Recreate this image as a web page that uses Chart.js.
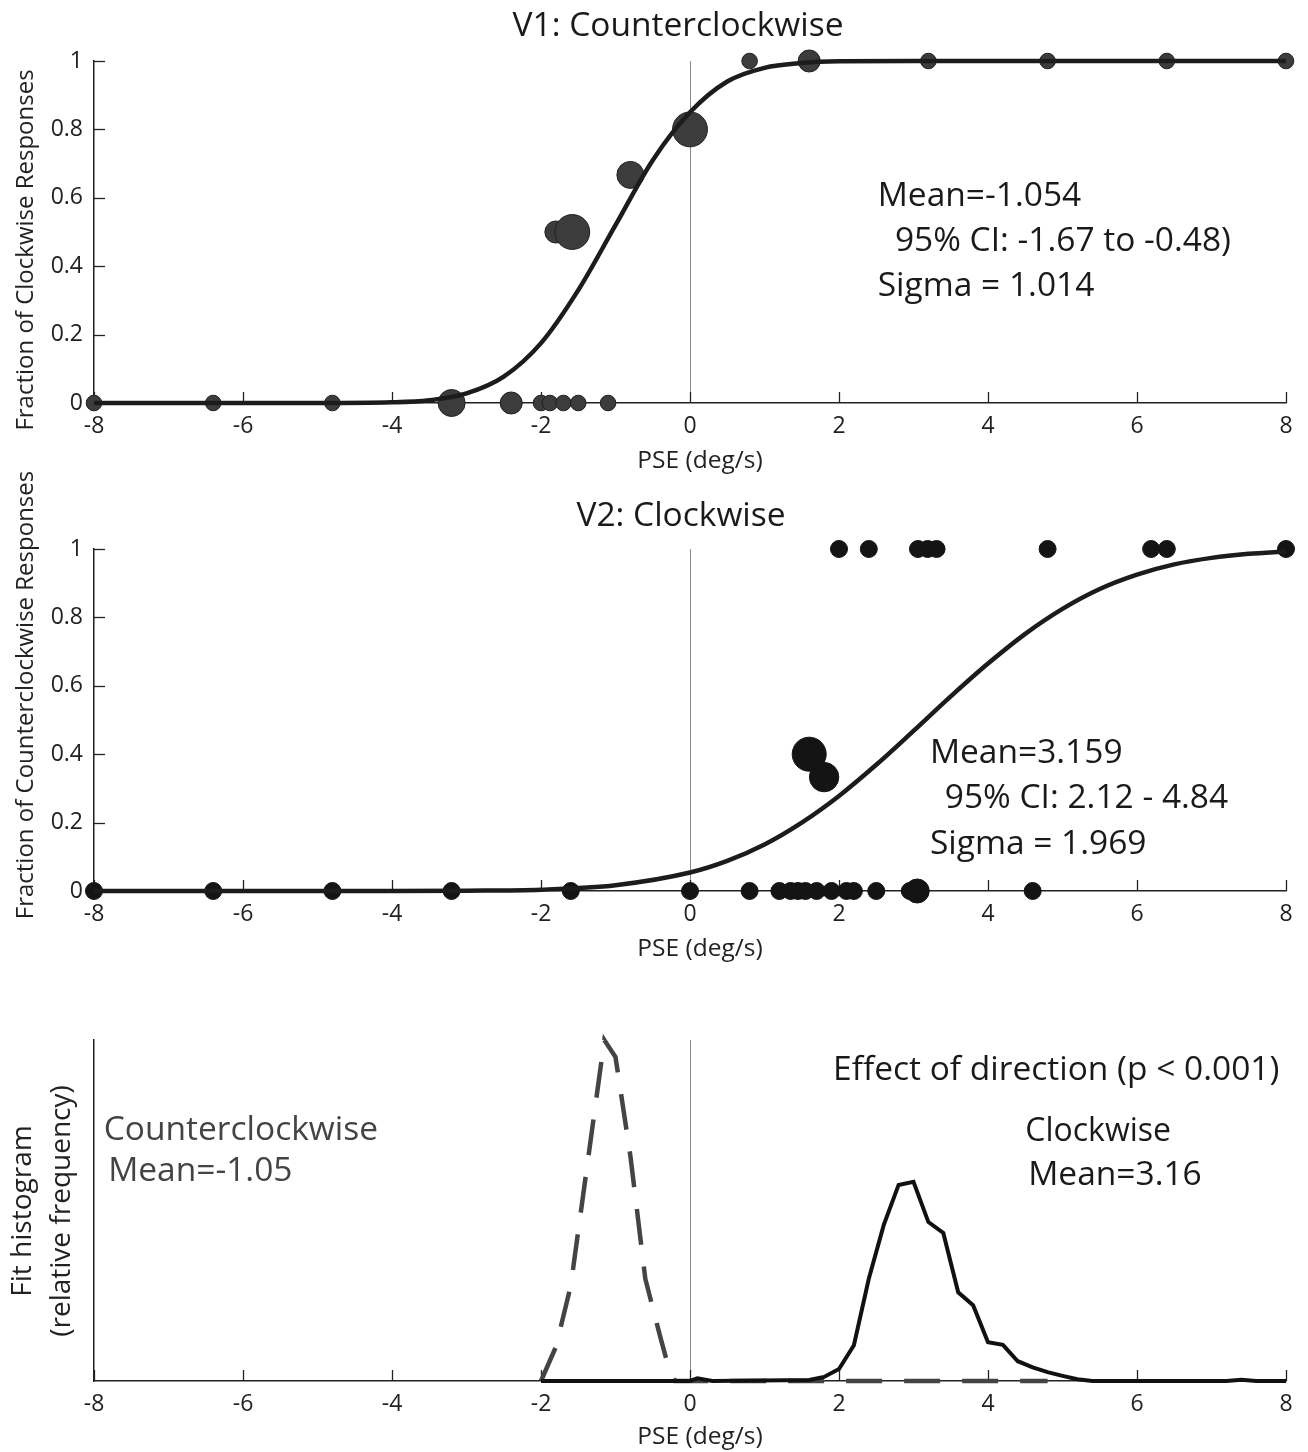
<!DOCTYPE html>
<html>
<head>
<meta charset="utf-8">
<script src="https://cdn.jsdelivr.net/npm/chart.js@4.4.1/dist/chart.umd.min.js"></script>
<style>
  body { margin: 0; background: #fff; }
  canvas { position: absolute; left: 0; }
</style>
</head>
<body>
<canvas id="v1Chart" width="1308" height="480" style="top:0px"></canvas>
<canvas id="v2Chart" width="1308" height="510" style="top:460px"></canvas>
<canvas id="histChart" width="1308" height="482" style="top:970px"></canvas>
<script>
// ================= DATA =================
// V1: counterclockwise - responses per speed, marker size ~ number of trials
const v1X      = [-8, -6.4, -4.8, -3.2, -2.4, -2.0, -1.88, -1.7, -1.5, -1.1, -1.8, -1.58, -0.8, 0, 0.8, 1.6, 3.2, 4.8, 6.4, 8];
const v1Y      = [0, 0, 0, 0, 0, 0, 0, 0, 0, 0, 0.5, 0.5, 0.667, 0.8, 1, 1, 1, 1, 1, 1];
const v1Trials = [1, 1, 1, 3, 2, 1, 1, 1, 1, 1, 2, 5, 3, 5, 1, 2, 1, 1, 1, 1];
const v1FitX   = [-8, -5, -4, -3.5, -3, -2.5, -2, -1.5, -1, -0.5, 0, 0.5, 1, 1.5, 2, 3, 8];
const v1FitY   = [0, 0, 0.002, 0.008, 0.028, 0.077, 0.175, 0.33, 0.52, 0.71, 0.85, 0.94, 0.98, 0.994, 0.999, 1, 1];

// V2: clockwise
const v2X      = [-8, -6.4, -4.8, -3.2, -1.6, 0, 0.8, 1.2, 1.35, 1.45, 1.55, 1.7, 1.9, 2.1, 2.2, 2.5, 2.95, 3.05, 4.6,
                  1.6, 1.8,
                  2.0, 2.4, 3.06, 3.19, 3.31, 4.8, 6.19, 6.4, 8];
const v2Y      = [0, 0, 0, 0, 0, 0, 0, 0, 0, 0, 0, 0, 0, 0, 0, 0, 0, 0, 0,
                  0.4, 0.333,
                  1, 1, 1, 1, 1, 1, 1, 1, 1];
const v2Trials = [1, 1, 1, 1, 1, 1, 1, 1, 1, 1, 1, 1, 1, 1, 1, 1, 1, 2, 1,
                  4, 3,
                  1, 1, 1, 1, 1, 1, 1, 1, 1];
const v2FitX   = [-8, -4, -3, -2, -1, 0, 0.5, 1, 1.5, 2, 2.5, 3, 3.5, 4, 4.5, 5, 5.5, 6, 6.5, 7, 7.5, 8];
const v2FitY   = [0, 0.0001, 0.001, 0.004, 0.017, 0.054, 0.088, 0.136, 0.2, 0.278, 0.369, 0.468, 0.569, 0.665, 0.752, 0.825, 0.883, 0.925, 0.955, 0.974, 0.986, 0.993];

// Fit histograms (relative frequency)
const ccwHistX = [-2.0, -1.8, -1.6, -1.4, -1.2, -1.15, -1.0, -0.8, -0.6, -0.4, -0.3, -0.2, 4.8];
const ccwHistY = [0, 0.1, 0.28, 0.6, 0.92, 1.0, 0.95, 0.66, 0.3, 0.13, 0.05, 0, 0];
const cwHistX  = [-2, 0, 0.1, 0.3, 1.6, 1.8, 2.0, 2.2, 2.4, 2.6, 2.8, 3.0, 3.2, 3.4, 3.6, 3.8, 4.0, 4.2, 4.4, 4.6, 4.8, 5.0, 5.2, 5.4, 7.2, 7.4, 7.6, 8];
const cwHistY  = [0, 0, 0.008, 0, 0.003, 0.012, 0.035, 0.105, 0.3, 0.457, 0.575, 0.584, 0.466, 0.434, 0.26, 0.222, 0.114, 0.106, 0.058, 0.04, 0.026, 0.015, 0.005, 0, 0, 0.004, 0, 0];

const xTickValues = [-8, -6, -4, -2, 0, 2, 4, 6, 8];
const yTickValues = [0, 0.2, 0.4, 0.6, 0.8, 1];

const toPoints = (xs, ys) => xs.map((x, i) => ({ x: x, y: ys[i] }));

Chart.defaults.font.family = '"Open Sans", "DejaVu Sans", sans-serif';
Chart.defaults.color = '#222';

// ticks drawn inside the axes + free text
const textLayer = {
  id: 'textLayer',
  beforeDatasetsDraw(chart, args, opts) {
    const { ctx, chartArea, scales } = chart;
    ctx.save();
    ctx.strokeStyle = '#222';
    ctx.lineWidth = 1.3;
    scales.x.ticks.forEach(t => {
      const px = Math.round(scales.x.getPixelForValue(t.value)) + 0.5;
      ctx.beginPath();
      ctx.moveTo(px, chartArea.bottom);
      ctx.lineTo(px, chartArea.bottom - 11);
      ctx.stroke();
    });
    if (opts.yTicks) {
      scales.y.ticks.forEach(t => {
        const py = Math.round(scales.y.getPixelForValue(t.value)) + 0.5;
        ctx.beginPath();
        ctx.moveTo(chartArea.left, py);
        ctx.lineTo(chartArea.left + 11, py);
        ctx.stroke();
      });
    }
    ctx.restore();
  },
  afterDraw(chart, args, opts) {
    const { ctx, scales } = chart;
    ctx.save();
    (opts.notes || []).forEach(n => {
      ctx.font = n.size + 'px "Open Sans", sans-serif';
      ctx.fillStyle = n.color || '#1a1a1a';
      ctx.textAlign = n.align || 'left';
      ctx.textBaseline = 'middle';
      const px = n.px !== undefined ? n.px : scales.x.getPixelForValue(n.x);
      const py = n.py !== undefined ? n.py : scales.y.getPixelForValue(n.y) + 2;
      if (n.rotate) {
        ctx.translate(px, py);
        ctx.rotate(-Math.PI / 2);
        ctx.fillText(n.text, 0, 0);
        ctx.setTransform(1, 0, 0, 1, 0, 0);
      } else {
        ctx.fillText(n.text, px, py);
      }
    });
    ctx.restore();
  }
};

function xAxis(height) {
  return {
    type: 'linear', min: -8, max: 8,
    afterFit: s => { s.height = height; },
    afterBuildTicks: s => { s.ticks = xTickValues.map(v => ({ value: v })); },
    ticks: { font: { size: 23 }, padding: 10, color: '#222' },
    grid: {
      drawTicks: false, lineWidth: 1,
      color: c => (c.tick && c.tick.value === 0) ? '#8a8a8a' : 'rgba(0,0,0,0)'
    },
    border: { color: '#222', width: 1.5 }
  };
}

function yAxis(showTicks) {
  return {
    type: 'linear', min: 0, max: 1,
    afterFit: s => { s.width = 94; },
    afterBuildTicks: s => { s.ticks = yTickValues.map(v => ({ value: v })); },
    ticks: { display: showTicks, font: { size: 23 }, padding: 11, color: '#222', callback: v => String(v) },
    grid: { display: false, drawTicks: false },
    border: { color: '#222', width: 1.5 }
  };
}

const baseOptions = (padTop) => ({
  responsive: false,
  animation: false,
  devicePixelRatio: 1,
  layout: { padding: { top: padTop, right: 22, left: 0, bottom: 0 } },
  events: []
});

// ================= V1: COUNTERCLOCKWISE =================
new Chart(document.getElementById('v1Chart'), {
  type: 'scatter',
  data: {
    datasets: [{
      data: toPoints(v1FitX, v1FitY),
      showLine: true, pointRadius: 0,
      borderColor: '#1c1c1c', borderWidth: 4.5,
      cubicInterpolationMode: 'monotone',
      order: 0, clip: false
    }, {
      data: toPoints(v1X, v1Y),
      pointRadius: c => 7.8 * Math.sqrt(v1Trials[c.dataIndex]),
      backgroundColor: '#3c3c3c', borderColor: '#202020', borderWidth: 1,
      order: 1, clip: false
    }]
  },
  options: Object.assign(baseOptions(61), {
    plugins: {
      legend: { display: false }, tooltip: { enabled: false },
      textLayer: {
        yTicks: true,
        notes: [
          { text: 'V1: Counterclockwise', px: 678, py: 26, size: 33.5, align: 'center' },
          { text: 'Fraction of Clockwise Responses', px: 26, py: 250, size: 24, align: 'center', rotate: true, color: '#222' },
          { text: 'PSE (deg/s)', px: 700, py: 461, size: 24.5, align: 'center', color: '#222' },
          { text: 'Mean=-1.054', x: 2.52, y: 0.61, size: 33.5 },
          { text: '95% CI: -1.67 to -0.48)', x: 2.75, y: 0.478, size: 33.5 },
          { text: 'Sigma = 1.014', x: 2.52, y: 0.346, size: 33.5 }
        ]
      }
    },
    scales: { x: xAxis(77), y: yAxis(true) }
  }),
  plugins: [textLayer]
});

// ================= V2: CLOCKWISE =================
new Chart(document.getElementById('v2Chart'), {
  type: 'scatter',
  data: {
    datasets: [{
      data: toPoints(v2FitX, v2FitY),
      showLine: true, pointRadius: 0,
      borderColor: '#1c1c1c', borderWidth: 4.5,
      cubicInterpolationMode: 'monotone',
      order: 0, clip: false
    }, {
      data: toPoints(v2X, v2Y),
      pointRadius: c => 8.5 * Math.sqrt(v2Trials[c.dataIndex]),
      backgroundColor: '#141414', borderColor: '#141414', borderWidth: 1,
      order: 1, clip: false
    }]
  },
  options: Object.assign(baseOptions(89), {
    plugins: {
      legend: { display: false }, tooltip: { enabled: false },
      textLayer: {
        yTicks: true,
        notes: [
          { text: 'V2: Clockwise', px: 681, py: 56, size: 33.5, align: 'center' },
          { text: 'Fraction of Counterclockwise Responses', px: 26, py: 235, size: 24, align: 'center', rotate: true, color: '#222' },
          { text: 'PSE (deg/s)', px: 700, py: 489, size: 24.5, align: 'center', color: '#222' },
          { text: 'Mean=3.159', x: 3.22, y: 0.409, size: 33.5 },
          { text: '95% CI: 2.12 - 4.84', x: 3.42, y: 0.275, size: 33.5 },
          { text: 'Sigma = 1.969', x: 3.22, y: 0.143, size: 33.5 }
        ]
      }
    },
    scales: { x: xAxis(79), y: yAxis(true) }
  }),
  plugins: [textLayer]
});

// ================= FIT HISTOGRAMS =================
new Chart(document.getElementById('histChart'), {
  type: 'scatter',
  data: {
    datasets: [{
      data: toPoints(cwHistX, cwHistY),
      showLine: true, pointRadius: 0,
      borderColor: '#111', borderWidth: 4,
      tension: 0, order: 0, clip: false
    }, {
      data: toPoints(ccwHistX, ccwHistY),
      showLine: true, pointRadius: 0,
      borderColor: '#444', borderWidth: 4.5,
      borderDash: [36, 22],
      tension: 0, order: 1, clip: false
    }]
  },
  options: Object.assign(baseOptions(70), {
    plugins: {
      legend: { display: false }, tooltip: { enabled: false },
      textLayer: {
        yTicks: false,
        notes: [
          { text: 'Fit histogram', px: 23, py: 241, size: 28, align: 'center', rotate: true, color: '#222' },
          { text: '(relative frequency)', px: 62, py: 241, size: 28, align: 'center', rotate: true, color: '#222' },
          { text: 'PSE (deg/s)', px: 700, py: 467, size: 24.5, align: 'center', color: '#222' },
          { text: 'Effect of direction (p < 0.001)', x: 1.92, y: 0.918, size: 33.5 },
          { text: 'Clockwise', x: 4.5, y: 0.736, size: 32 },
          { text: 'Mean=3.16', x: 4.54, y: 0.61, size: 33.5 },
          { text: 'Counterclockwise', x: -7.87, y: 0.742, size: 33.5, color: '#444' },
          { text: 'Mean=-1.05', x: -7.81, y: 0.619, size: 33.5, color: '#444' }
        ]
      }
    },
    scales: { x: xAxis(71), y: yAxis(false) }
  }),
  plugins: [textLayer]
});
</script>
</body>
</html>
